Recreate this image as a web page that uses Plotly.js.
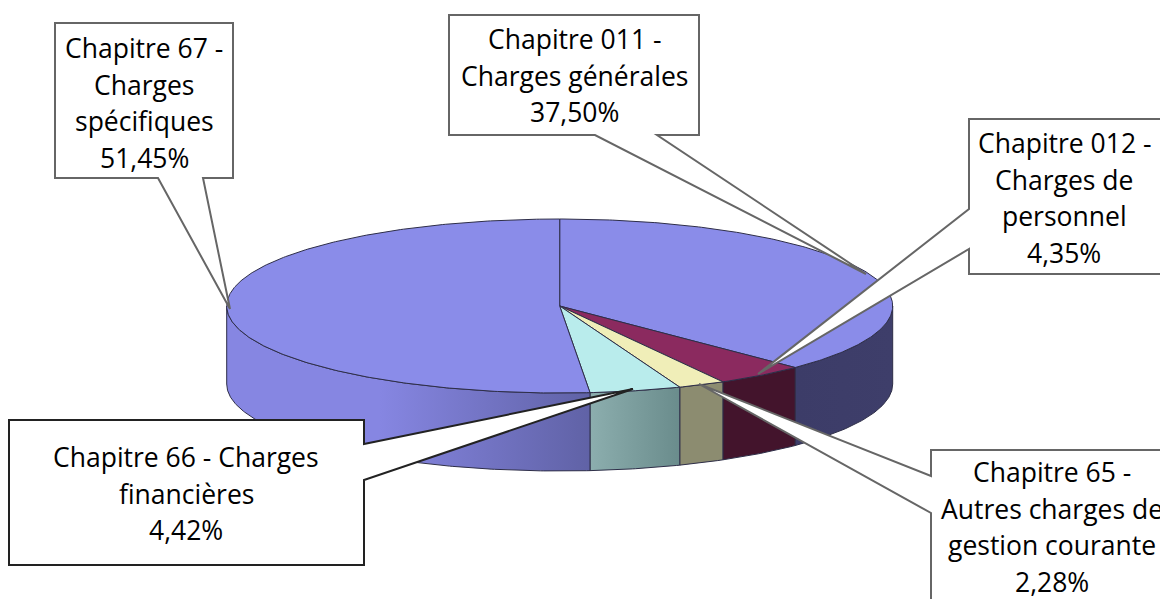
<!DOCTYPE html>
<html>
<head>
<meta charset="utf-8">
<script src="https://cdn.plot.ly/plotly-3.0.1.min.js"></script>
<style>html,body{margin:0;padding:0;background:#fff;overflow:hidden}#chart{width:1160px;height:599px}</style>
</head>
<body>
<div id="chart"></div>
<script>
// ---- chart values ----
const categories = ["Chapitre 011 - Charges générales","Chapitre 012 - Charges de personnel","Chapitre 65 - Autres charges de gestion courante","Chapitre 66 - Charges financières","Chapitre 67 - Charges spécifiques"];
const shares = [37.50, 4.35, 2.28, 4.42, 51.45];
const shareLabels = ["37,50%","4,35%","2,28%","4,42%","51,45%"];
const labelLines = [
  ["Chapitre 011 -","Charges générales"],
  ["Chapitre 012 -","Charges de","personnel"],
  ["Chapitre 65 -","Autres charges de","gestion courante"],
  ["Chapitre 66 - Charges","financières"],
  ["Chapitre 67 -","Charges","spécifiques"]
];

// ---- styling and layout of the drawing ----
const topColors = ["#8A8CE9","#8B2A5F","#F0EEB8","#B9ECEC","#8A8CE9"];
const sideFills = [
  [[0,"#3C3C68"],[1,"#3E3E6A"]],
  [[0,"#43142C"],[1,"#43142C"]],
  [[0,"#8C8C70"],[1,"#8C8C70"]],
  [[0,"#8CAEAE"],[1,"#6A8C8C"]],
  [[0,"#8686E2"],[0.42,"#8686E2"],[1,"#6062A6"]]
];
const edge = "#2E2E48";
const cx = 559.7, cy = 306, rx = 333, ry = 87, depth = 78;
const calloutBoxes = [ // x0,y0,x1,y1, side, pointer a, pointer b, tip, text x, first line y, colour
  {i:4,b:[55,23,233,178],side:"bottom",p:[[158,178],[203,178]],tip:[230,309],tx:144,ty:48,c:"#666"},
  {i:0,b:[449,15,699,135],side:"bottom",p:[[595,135],[657,135]],tip:[866,274],tx:574,ty:39,c:"#666"},
  {i:1,b:[969,119,1175,274],side:"left",p:[[969,209],[969,249]],tip:[758,374],tx:1064,ty:143,c:"#666"},
  {i:2,b:[931,450,1175,620],side:"left",p:[[931,476],[931,513]],tip:[699,384],tx:1052,ty:472,c:"#666"},
  {i:3,b:[9,420,364,565],side:"right",p:[[364,444],[364,480]],tip:[633,389],tx:186,ty:457,c:"#222"}
];

// ---- derive the geometry from the values ----
const total = shares.reduce((a,b)=>a+b,0);
const px = t => cx + rx*Math.sin(t);
const py = (t,d=0) => cy - ry*Math.cos(t) + d;
const arc = (a,b,d=0) => {
  const n = Math.max(2,Math.ceil(Math.abs(b-a)/0.01));
  const xs=[],ys=[];
  for(let k=0;k<=n;k++){const t=a+(b-a)*k/n;xs.push(px(t));ys.push(py(t,d));}
  return [xs,ys];
};
let acc = 0;
const slices = shares.map(v=>{const s=acc/total*2*Math.PI;acc+=v;return [s,acc/total*2*Math.PI];});

const traces = [];
// side walls (front half only)
slices.forEach(([s,e],i)=>{
  const a=Math.max(s,Math.PI/2), b=Math.min(e,1.5*Math.PI);
  if(b<=a) return;
  const [tx,ty]=arc(a,b,0), [bx,by]=arc(b,a,depth);
  traces.push({type:"scatter",mode:"lines",x:[...tx,...bx,tx[0]],y:[...ty,...by,ty[0]],
    fill:"toself",fillcolor:sideFills[i][0][1],
    fillgradient:{type:"horizontal",colorscale:sideFills[i]},
    line:{color:edge,width:1},hoverinfo:"skip",showlegend:false});
});
// top faces
slices.forEach(([s,e],i)=>{
  const [ax,ay]=arc(s,e,0);
  traces.push({type:"scatter",mode:"lines",x:[cx,...ax,cx],y:[cy,...ay,cy],
    fill:"toself",fillcolor:topColors[i],line:{color:edge,width:1},
    name:categories[i],hoverinfo:"skip",showlegend:false});
});

// callouts
const shapes=[],annotations=[];
const lineGap=36.6;
calloutBoxes.forEach(c=>{
  const [x0,y0,x1,y1]=c.b, [p,q]=c.p, t=c.tip;
  let path;
  if(c.side==="bottom") path=`M${x0},${y0}L${x1},${y0}L${x1},${y1}L${q[0]},${q[1]}L${t[0]},${t[1]}L${p[0]},${p[1]}L${x0},${y1}Z`;
  if(c.side==="left")   path=`M${x0},${y0}L${x1},${y0}L${x1},${y1}L${x0},${y1}L${q[0]},${q[1]}L${t[0]},${t[1]}L${p[0]},${p[1]}Z`;
  if(c.side==="right")  path=`M${x0},${y0}L${x1},${y0}L${p[0]},${p[1]}L${t[0]},${t[1]}L${q[0]},${q[1]}L${x1},${y1}L${x0},${y1}Z`;
  shapes.push({type:"path",path,xref:"x",yref:"y",layer:"above",fillcolor:"#ffffff",line:{color:c.c,width:2}});
  [...labelLines[c.i],shareLabels[c.i]].forEach((txt,k)=>{
    annotations.push({x:c.tx,y:c.ty+k*lineGap,xref:"x",yref:"y",text:txt,showarrow:false,
      xanchor:"center",yanchor:"middle",font:{family:"'Open Sans',sans-serif",size:26.5,color:"#000"}});
  });
});

Plotly.newPlot("chart",traces,{
  width:1160,height:599,margin:{l:0,r:0,t:0,b:0},
  paper_bgcolor:"#fff",plot_bgcolor:"#fff",showlegend:false,hovermode:false,
  xaxis:{range:[0,1160],visible:false,fixedrange:true},
  yaxis:{range:[599,0],visible:false,fixedrange:true},
  shapes,annotations
},{displayModeBar:false,staticPlot:true});
</script>
</body>
</html>
